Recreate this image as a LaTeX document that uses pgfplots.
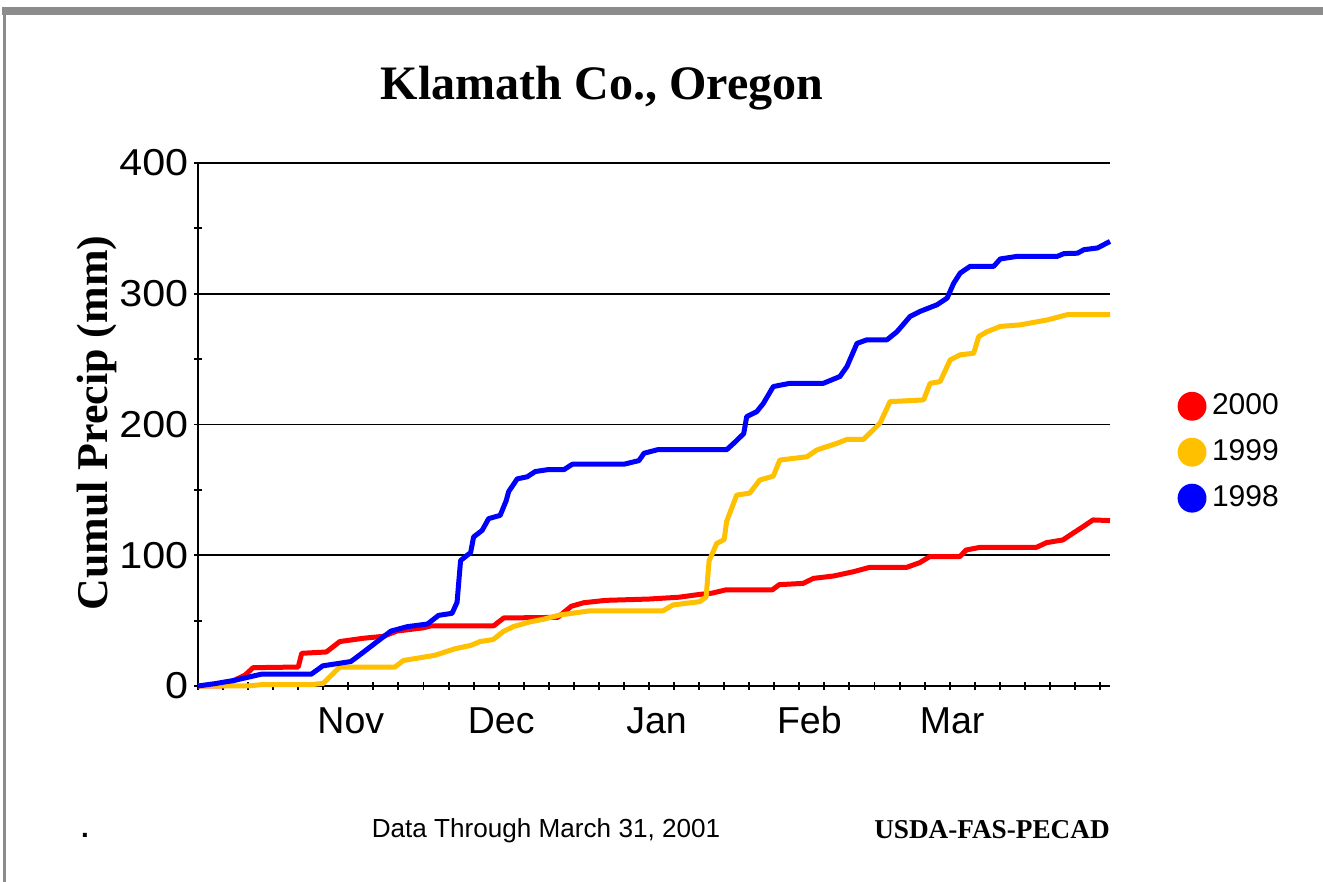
\documentclass[border=0pt]{standalone}
\usepackage{pgfplots}
\pgfplotsset{compat=1.18}
\usepackage{fontspec}
\setmainfont{Liberation Serif}
\newfontfamily\sans{Liberation Sans}
\newfontfamily\sanswide[FakeStretch=1.1]{Liberation Sans}
\definecolor{myred}{RGB}{255,0,0}
\definecolor{myyellow}{RGB}{255,192,0}
\definecolor{myblue}{RGB}{0,0,255}
\definecolor{framegray}{RGB}{140,140,140}
\begin{document}
\begin{tikzpicture}
\path[use as bounding box] (0,0) rectangle (476.28pt,317.52pt);
\fill[white] (0,0) rectangle (476.28pt,317.52pt);
\fill[framegray] (0.7pt,312.1pt) rectangle (476.28pt,315.0pt);
\fill[framegray] (0.9pt,0pt) rectangle (2.2pt,315.0pt);
\begin{axis}[
  at={(71.28pt,70.56pt)}, anchor=south west,
  scale only axis, width=328.32pt, height=188.28pt,
  xmin=0, xmax=182, ymin=0, ymax=400,
  clip=false,
  axis x line*=bottom, axis y line*=left,
  axis line style={black, line width=0.8pt},
  xtick={0,5,...,180}, xticklabels={},
  extra x ticks={30.5,60.5,91.5,122,150.5},
  extra x tick labels={Nov,Dec,Jan,Feb,Mar},
  extra x tick style={major tick length=0pt, grid=none},
  ytick={0,100,...,400}, minor ytick={50,150,250,350},
  ymajorgrids, grid style={black, line width=0.7pt},
  tick align=center, major tick length=3pt, minor tick length=3pt,
  tick style={black, line width=0.7pt},
  /pgf/number format/assume math mode=true,
  yticklabel style={font=\sanswide\fontsize{13.5}{14}\selectfont, xshift=1.5pt},
  xticklabel style={font=\sans\fontsize{13.5}{14}\selectfont, yshift=-4pt, text height=9.7pt, text depth=0pt},
  legend style={at={(1.0735,0.447)}, anchor=west, draw=none, fill=none,
    font=\sans\fontsize{10.8}{11}\selectfont, row sep=3.5pt, inner sep=0pt,
    /tikz/every even column/.append style={column sep=1pt}},
  legend cell align=left,
  legend image code/.code={\fill[draw=none] (5.2pt,0pt) circle (5.2pt);},
  every axis plot/.append style={line width=1.8pt, line join=round},
]
\addplot[myred] coordinates {
(0,0) (5,0) (9.4,8.4) (11,14) (20,14.5) (20.7,25) (25.6,26) (28.3,34) (33,36.5)
(37,38) (39.7,42) (45,44.5) (46.5,46) (59,46) (61,52) (71.8,52.5) (74.5,61)
(77,63.7) (81.4,65.5) (90,66.5) (96,67.9) (100,70) (102.6,71) (105.3,73.5)
(114.6,73.5) (116,77.5) (120.8,78.5) (122.8,82.3) (126.8,84.1) (130.8,87.4)
(134,90.7) (141.4,90.7) (144,94.3) (146,98.9) (152,98.9) (153.3,104) (156,106)
(167.3,106) (169.3,109.6) (172.6,111.7) (174.6,116.8) (176.6,121.8) (178.6,127)
(182,126.5)};
\addlegendentry{2000}
\addplot[myyellow] coordinates {
(0,0) (10,0) (12.6,1) (22.6,1) (25,2) (27,9.7) (28.3,14.5) (39.3,14.5) (41,19.5)
(47.3,23.5) (51.3,28.5) (54.4,31) (56.3,34) (58.9,35.5) (60.9,41.6) (62.9,45.4)
(66.2,49) (68.9,51) (72.2,54.3) (78.2,57.5) (92.8,57.5) (94.8,62) (100.1,64.5)
(101.4,68) (102,96) (102.5,100) (103.5,109) (105,112) (105.5,126) (107.5,146)
(110.1,147.5) (112.1,157.5) (114.8,160.5) (116.1,172.8) (121.5,175.3)
(123.5,180.5) (127.5,185.6) (129.5,188.6) (132.8,188.6) (136.1,201) (138.1,217.5)
(144.8,218.8) (146.1,231.5) (148.1,232.8) (150.1,249.4) (152.1,253.3)
(154.8,254.5) (155.8,267.3) (157.5,271) (160.1,275) (164.1,276.2) (169.5,280)
(173.5,284) (182,284)};
\addlegendentry{1999}
\addplot[myblue] coordinates {
(0,0) (3.4,1.8) (7.4,4.4) (12.6,9) (22.6,9) (24.9,15.4) (30.5,18.7) (32.5,24.4)
(38.5,42) (41.8,45.4) (45.8,47.4) (48,54) (50.7,55.6) (51.7,64) (52.4,96)
(54.4,102) (55,114) (56.7,119) (58,128) (60.3,130.5) (61.5,141.7) (62,148.7)
(63.7,158.4) (65.7,160) (67.3,164) (69.7,165.4) (73,165.4) (74.7,169.6)
(85,169.6) (88,172.4) (89,178) (91.7,180.7) (105.5,180.7) (106.9,185.6)
(108.9,193) (109.5,206) (111.5,209.8) (112.8,216) (114.8,229) (118.1,231.5)
(124.8,231.5) (128.1,236.7) (129.5,244.3) (131.5,262) (133.5,264.8)
(137.5,264.8) (139.5,271) (142.1,282.6) (144.1,286.5) (147.5,291.6)
(149.5,296.7) (150.8,308) (152.1,315.8) (154.1,321) (158.8,321) (160.1,326.6)
(163.5,328.6) (171.5,328.6) (172.8,330.7) (175.5,331) (176.8,333.7)
(179.5,335) (182,340)};
\addlegendentry{1998}
\end{axis}
\node[anchor=base, font=\bfseries\fontsize{17.3}{18}\selectfont] at (216.72pt,281.52pt) {Klamath Co., Oregon};
\node[rotate=90, font=\bfseries\fontsize{15.8}{16}\selectfont] at (34.9pt,165.2pt) {Cumul Precip (mm)};
\node[anchor=base, font=\sans\fontsize{9.4}{10}\selectfont] at (196.56pt,15.84pt) {Data Through March 31, 2001};
\node[anchor=base, font=\bfseries\fontsize{9.8}{10}\selectfont] at (357.12pt,15.5pt) {USDA-FAS-PECAD};
\node[anchor=base, font=\sans\bfseries\fontsize{10}{10}\selectfont] at (30.6pt,15.84pt) {.};
\end{tikzpicture}
\end{document}
